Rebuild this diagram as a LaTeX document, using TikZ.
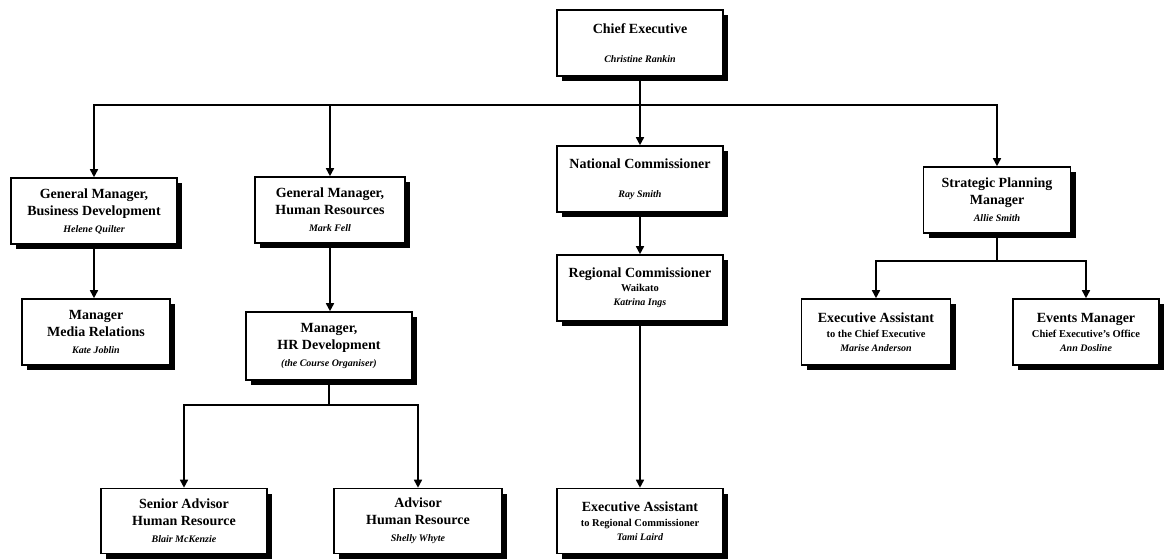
\documentclass[tikz,border=0pt]{standalone}
\usepackage{fontspec}
\setmainfont{Liberation Serif}
\usetikzlibrary{arrows.meta,shadows}

\newcommand{\unit}[1]{{\fontsize{10.5}{12}\selectfont #1}}
\newcommand{\who}[1]{{\fontsize{10}{12}\selectfont\itshape #1}}

\tikzset{
  post/.style={draw, line width=1.6pt, fill=white, align=center,
    font=\fontsize{14}{17}\selectfont\bfseries,
    minimum width=166pt, minimum height=66pt, inner sep=2pt,
    drop shadow={shadow xshift=5pt, shadow yshift=-5pt, fill=black, opacity=1}},
  link/.style={line width=1.6pt},
  arr/.style={link, -{Triangle[length=8pt,width=8pt]}}
}

\begin{document}
\begin{tikzpicture}[x=1pt, y=-1pt]
    \useasboundingbox (0,0) rectangle (1165,559);

    % Top of the chart
    \node[post] (chief) at (640,43) {Chief Executive\\[12pt]\who{Christine Rankin}};

    % Second level
    \node[post] (gmbd) at (94,211) {General Manager,\\Business Development\\\who{Helene Quilter}};
    \node[post, minimum width=150pt] (gmhr) at (330,210) {General Manager,\\Human Resources\\\who{Mark Fell}};
    \node[post] (natcom) at (640,179) {National Commissioner\\[12pt]\who{Ray Smith}};
    \node[post, minimum width=147pt] (strat) at (997,200) {Strategic Planning\\Manager\\\who{Allie Smith}};

    % Third level
    \node[post, minimum width=148pt] (media) at (96,332) {Manager\\Media Relations\\\who{Kate Joblin}};
    \node[post, minimum height=68pt] (hrdev) at (329,346) {Manager,\\HR Development\\\who{(the Course Organiser)}};
    \node[post] (regcom) at (640,288) {Regional Commissioner\\[-3pt]\unit{Waikato}\\[-3pt]\who{Katrina Ings}};
    \node[post, minimum width=149pt] (eachief) at (876,332) {Executive Assistant\\[-2pt]\unit{to the Chief Executive}\\[-3pt]\who{Marise Anderson}};
    \node[post, minimum width=146pt] (events) at (1086,332) {Events Manager\\[-2pt]\unit{Chief Executive's Office}\\[-3pt]\who{Ann Dosline}};

    % Bottom level
    \node[post, minimum height=65pt] (senior) at (184,521) {Senior Advisor\\Human Resource\\\who{Blair McKenzie}};
    \node[post, minimum height=65pt, minimum width=168pt] (advisor) at (418,521) {Advisor\\Human Resource\\\who{Shelly Whyte}};
    \node[post, minimum height=65pt] (earc) at (640,521) {Executive Assistant\\[-2pt]\unit{to Regional Commissioner}\\[-3pt]\who{Tami Laird}};

    % Connectors
    \coordinate (topbar) at (640,105);
    \draw[link] (chief.south) -- (topbar);
    \draw[arr] (topbar) -| (gmbd.north);
    \draw[arr] (topbar) -| (gmhr.north);
    \draw[arr] (topbar) -- (natcom.north);
    \draw[arr] (topbar) -| (strat.north);

    \draw[arr] (gmbd.south) -- (gmbd.south |- media.north);
    \draw[arr] (gmhr.south) -- (gmhr.south |- hrdev.north);
    \draw[arr] (natcom.south) -- (regcom.north);
    \draw[arr] (regcom.south) -- (earc.north);

    \coordinate (hrbar) at (329,405);
    \draw[link] (hrdev.south) -- (hrbar);
    \draw[arr] (hrbar) -| (senior.north);
    \draw[arr] (hrbar) -| (advisor.north);

    \coordinate (stratbar) at (997,261);
    \draw[link] (strat.south) -- (stratbar);
    \draw[arr] (stratbar) -| (eachief.north);
    \draw[arr] (stratbar) -| (events.north);
\end{tikzpicture}
\end{document}
